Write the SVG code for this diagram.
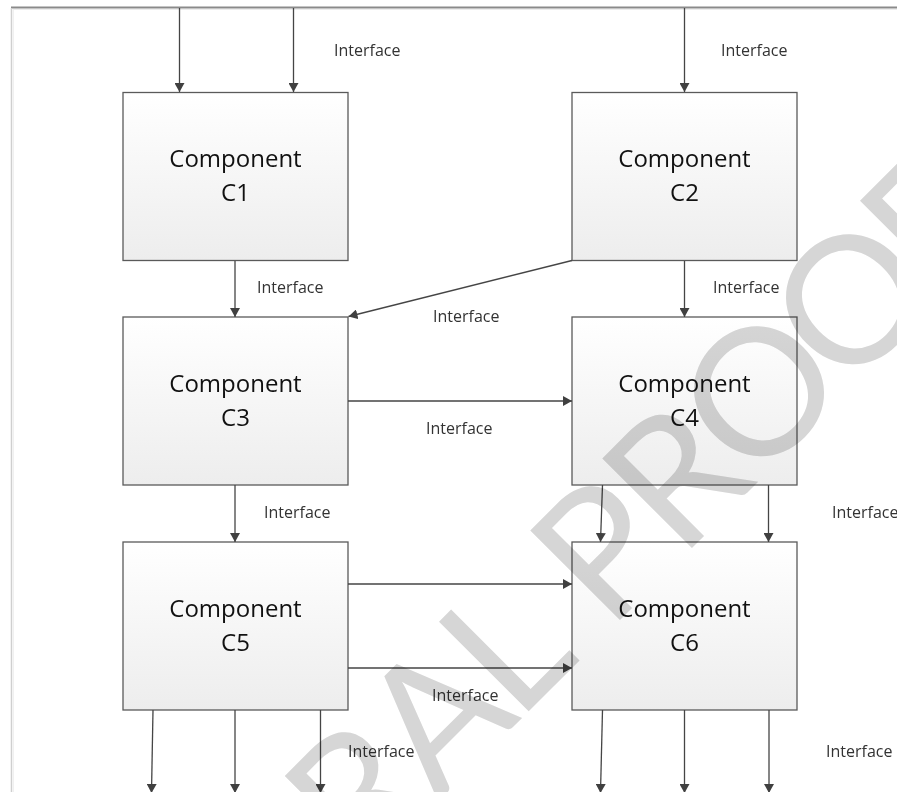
<svg xmlns="http://www.w3.org/2000/svg" width="897" height="792" viewBox="0 0 897 792">
  <style>
    .box { fill: url(#boxFill); stroke: #5a5a5a; stroke-width: 1.3; }
    .title { font-family: "Open Sans", Lato, "Liberation Sans", sans-serif; font-size: 24px; fill: #111; text-anchor: middle; }
    .lbl { font-family: "Open Sans", Lato, "Liberation Sans", sans-serif; font-size: 16px; fill: #333; }
    .wire { fill: none; stroke: #454545; stroke-width: 1.3; marker-end: url(#ah); }
    .stamp { font-family: Lato, "Open Sans", "Liberation Sans", sans-serif; font-size: 177px; fill: #d6d6d6; text-anchor: middle; mix-blend-mode: multiply; }
  </style>
  <defs>
    <linearGradient id="boxFill" x1="0" y1="0" x2="0" y2="1">
      <stop offset="0" stop-color="#ffffff"/>
      <stop offset="1" stop-color="#ededed"/>
    </linearGradient>
    <marker id="ah" viewBox="0 0 9 10" markerWidth="9" markerHeight="10" refX="9" refY="5" orient="auto" markerUnits="userSpaceOnUse">
      <path d="M0,0 L9,5 L0,10 z" fill="#404040"/>
    </marker>
  </defs>

  <rect width="897" height="792" fill="#ffffff"/>

  <!-- page frame -->
  <g id="frame">
    <line x1="11" y1="7.5" x2="897" y2="7.5" stroke="#8a8a8a" stroke-width="2"/>
    <line x1="13" y1="9.5" x2="897" y2="9.5" stroke="#ececec" stroke-width="1"/>
    <line x1="11.5" y1="8" x2="11.5" y2="792" stroke="#cfcfcf" stroke-width="1.5"/>
    <line x1="13.5" y1="10" x2="13.5" y2="792" stroke="#f0f0f0" stroke-width="1"/>
  </g>

  <!-- components -->
  <g id="c1">
    <rect class="box" x="123" y="92.5" width="225" height="168"/>
    <text class="title" x="235.5" y="167">Component</text>
    <text class="title" x="235.5" y="201">C1</text>
  </g>
  <g id="c2">
    <rect class="box" x="572" y="92.5" width="225" height="168"/>
    <text class="title" x="684.5" y="167">Component</text>
    <text class="title" x="684.5" y="201">C2</text>
  </g>
  <g id="c3">
    <rect class="box" x="123" y="317" width="225" height="168"/>
    <text class="title" x="235.5" y="392">Component</text>
    <text class="title" x="235.5" y="426">C3</text>
  </g>
  <g id="c4">
    <rect class="box" x="572" y="317" width="225" height="168"/>
    <text class="title" x="684.5" y="392">Component</text>
    <text class="title" x="684.5" y="426">C4</text>
  </g>
  <g id="c5">
    <rect class="box" x="123" y="542" width="225" height="168"/>
    <text class="title" x="235.5" y="617">Component</text>
    <text class="title" x="235.5" y="651">C5</text>
  </g>
  <g id="c6">
    <rect class="box" x="572" y="542" width="225" height="168"/>
    <text class="title" x="684.5" y="617">Component</text>
    <text class="title" x="684.5" y="651">C6</text>
  </g>

  <!-- connectors -->
  <g id="connectors">
    <path class="wire" d="M179.5 8 V92"/>
    <path class="wire" d="M293.5 8 V92"/>
    <path class="wire" d="M684.5 8 V92"/>
    <path class="wire" d="M235 261 V317"/>
    <path class="wire" d="M684.5 261 V317"/>
    <path class="wire" d="M572 260.5 L348.5 316.5"/>
    <path class="wire" d="M348 401 H572"/>
    <path class="wire" d="M235 485 V542"/>
    <path class="wire" d="M602.5 485 L600.5 542"/>
    <path class="wire" d="M768.5 485 V542"/>
    <path class="wire" d="M348 584 H572"/>
    <path class="wire" d="M348 668 H572"/>
    <path class="wire" d="M153 710 L151.5 793"/>
    <path class="wire" d="M235 710 V793"/>
    <path class="wire" d="M320.5 710 V793"/>
    <path class="wire" d="M602.5 710 L600.5 793"/>
    <path class="wire" d="M684.5 710 V793"/>
    <path class="wire" d="M769 710 V793"/>
  </g>

  <!-- interface labels -->
  <g id="labels">
    <text class="lbl" x="334" y="56">Interface</text>
    <text class="lbl" x="721" y="56">Interface</text>
    <text class="lbl" x="257" y="293">Interface</text>
    <text class="lbl" x="713" y="293">Interface</text>
    <text class="lbl" x="433" y="322">Interface</text>
    <text class="lbl" x="426" y="434">Interface</text>
    <text class="lbl" x="264" y="518">Interface</text>
    <text class="lbl" x="832" y="518">Interface</text>
    <text class="lbl" x="432" y="701">Interface</text>
    <text class="lbl" x="348" y="757">Interface</text>
    <text class="lbl" x="826" y="757">Interface</text>
  </g>

  <!-- diagonal stamp -->
  <g id="stamp" transform="translate(480 760) rotate(-45)">
    <text class="stamp" x="-110 0 98 160 235 339 458 588 698" y="0">RAL PROOF</text>
  </g>
</svg>
